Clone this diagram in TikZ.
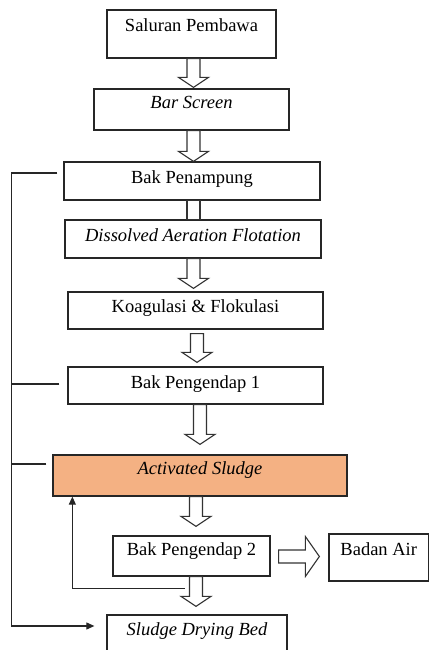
\documentclass[tikz,border=0pt]{standalone}
\usepackage{fontspec}
\setmainfont{Liberation Serif}
\usetikzlibrary{calc,arrows.meta}
\definecolor{actfill}{HTML}{F4B183}
\tikzset{
  box/.style={draw=black!85, line width=1.3pt, inner sep=0pt, text height=12.5pt, text depth=4pt,
              font=\fontsize{18.5pt}{22pt}\selectfont},
  blk/.style={draw=black!80, line width=1.1pt, fill=white, line join=miter},
  link/.style={draw=black!85, line width=1.1pt},
  arr/.style={link, -{Triangle[length=8pt,width=7pt]}},
}
\newcommand\blkdown[5]{%
  \draw[blk] let \p1=($(#1.south)+(#3,-#4)$), \p2=($(#2.north)+(0,#5)$) in
    ({\x1-6.5pt},\y1) -- ({\x1-6.5pt},{\y2+10pt}) -- ({\x1-15pt},{\y2+10pt}) -- (\x1,\y2)
    -- ({\x1+15pt},{\y2+10pt}) -- ({\x1+6.5pt},{\y2+10pt}) -- ({\x1+6.5pt},\y1) -- cycle;}
\begin{document}
\begin{tikzpicture}[x=1pt,y=1pt]
\useasboundingbox (0,0) rectangle (429,650);
\clip (0,0) rectangle (429,650);
% boxes
\node[box, minimum width=169pt, minimum height=48pt, text depth=17.5pt] (sal) at (191.5,616) {Saluran Pembawa};
\node[box, minimum width=195pt, minimum height=41pt, text depth=13.5pt] (bar) at (191.5,540.5) {\itshape Bar Screen};
\node[box, minimum width=256pt, minimum height=38pt, text depth=6.5pt] (bak) at (192,469) {Bak Penampung};
\node[box, minimum width=256pt, minimum height=38pt, text depth=7pt] (daf) at (193,411) {\itshape Dissolved Aeration Flotation};
\node[box, minimum width=255pt, minimum height=37pt, text depth=8pt] (koa) at (195.5,339.5) {Koagulasi \& Flokulasi};
\node[box, minimum width=255pt, minimum height=37pt, text depth=5.5pt] (bp1) at (195.5,264.5) {Bak Pengendap 1};
\node[box, fill=actfill, minimum width=294pt, minimum height=41pt, text depth=13.5pt] (act) at (200,174.5) {\itshape Activated Sludge};
\node[box, minimum width=157pt, minimum height=40pt, text depth=13pt] (bp2) at (191.5,94) {Bak Pengendap 2};
\node[box, minimum width=99.5pt, minimum height=47pt, text depth=16pt] (air) at (378.75,92.5) {Badan Air};
\node[box, minimum width=180pt, minimum height=45pt, text depth=15.5pt] (sdb) at (197,12.5) {\itshape Sludge Drying Bed};
% block arrows
\blkdown{sal}{bar}{2}{0}{1}
\blkdown{bar}{bak}{2}{0}{0}
\draw[blk] ($(bak.south)+(-5,0)$) rectangle ($(daf.north)+(7,0)$);
\blkdown{daf}{koa}{0.5}{0}{3}
\blkdown{koa}{bp1}{1.5}{4}{4}
\blkdown{bp1}{act}{4.5}{0}{10}
\blkdown{act}{bp2}{-4}{0}{9}
\blkdown{bp2}{sdb}{4.5}{0}{8}
\draw[blk] let \p1=($(bp2.east)+(8,-0.5)$), \p2=($(air.west)+(-9,0)$) in
  (\x1,{\y1-6.5pt}) -- ({\x2-14pt},{\y1-6.5pt}) -- ({\x2-14pt},{\y1-20pt}) -- (\x2,\y1)
  -- ({\x2-14pt},{\y1+20pt}) -- ({\x2-14pt},{\y1+6.5pt}) -- (\x1,{\y1+6.5pt}) -- cycle;
% feedback lines
\coordinate (ltop) at ($(bak.west)+(-52,8)$);
\draw[arr] ($(bak.west)+(-6,8)$) -- (ltop) |- ($(sdb.west)+(-12,11.5)$);
\coordinate (b1) at ($(bp1.west)+(-8,1.5)$);
\draw[link] (b1) -- (b1 -| ltop);
\coordinate (b2) at ($(act.west)+(-6,11.5)$);
\draw[link] (b2) -- (b2 -| ltop);
\draw[arr] ($(bp2.south)+(-6.5,-12)$) -| ($(act.south west)+(20,0)$);
\end{tikzpicture}
\end{document}
